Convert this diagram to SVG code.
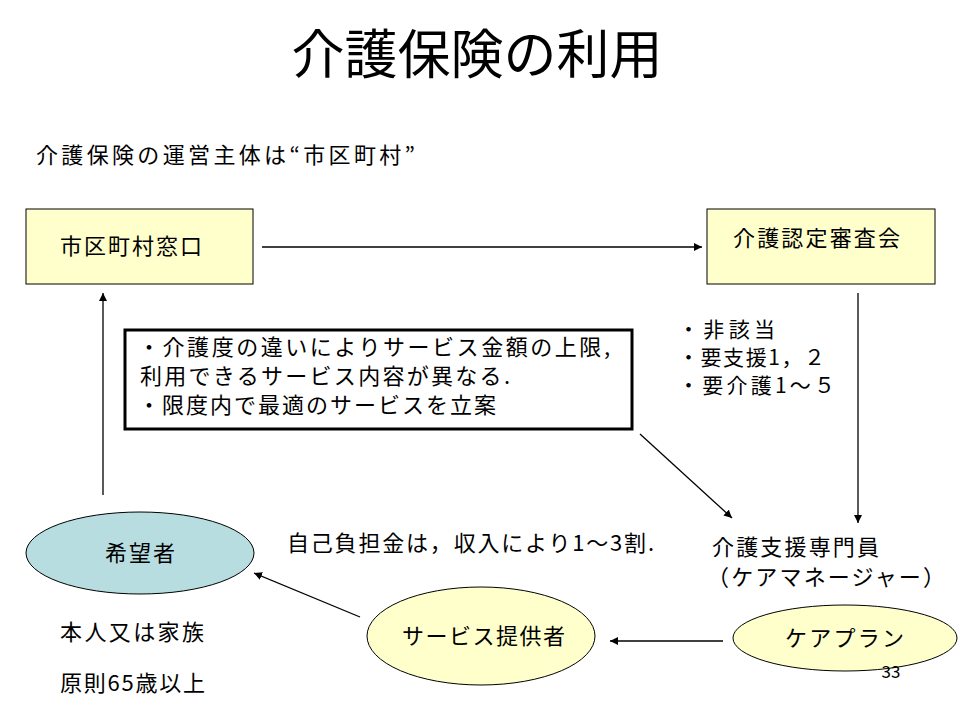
<svg xmlns="http://www.w3.org/2000/svg" width="960" height="720" viewBox="0 0 960 720">
<defs>
<style>
text{font-family:"Noto Sans CJK JP","Noto Sans",sans-serif;fill:#000;}
.t22{font-size:22px;}
.t21{font-size:21px;}
.ln{stroke:#000;stroke-width:1.3;fill:none;}
.box{fill:#FFFFCC;stroke:#000;stroke-width:1;}
</style>
<marker id="ah" viewBox="0 0 10 10" refX="10" refY="5" markerWidth="8" markerHeight="8" markerUnits="userSpaceOnUse" orient="auto">
<path d="M0,0 L10,5 L0,10 z" fill="#000"/>
</marker>
</defs>
<rect width="960" height="720" fill="#fff"/>
<text x="477" y="74" font-size="53" text-anchor="middle">介護保険の利用</text>
<text x="36" y="163" class="t22" textLength="379" lengthAdjust="spacing">介護保険の運営主体は“市区町村”</text>

<g id="connectors">
<line class="ln" x1="262" y1="247" x2="702" y2="247" marker-end="url(#ah)"/>
<line class="ln" x1="858" y1="293" x2="858" y2="523" marker-end="url(#ah)"/>
<line class="ln" x1="640" y1="434" x2="732" y2="518" marker-end="url(#ah)"/>
<line class="ln" x1="103" y1="495" x2="103" y2="293" marker-end="url(#ah)"/>
<line class="ln" x1="360" y1="617" x2="254" y2="573" marker-end="url(#ah)"/>
<line class="ln" x1="723" y1="641" x2="610" y2="641" marker-end="url(#ah)"/>
</g>

<g id="node-shichoson">
<rect class="box" x="26" y="209" width="227" height="75"/>
<text x="60" y="254" class="t22" textLength="142" lengthAdjust="spacing">市区町村窓口</text>
</g>

<g id="node-shinsakai">
<rect class="box" x="707" y="209" width="228" height="75"/>
<text x="733" y="246" class="t22" textLength="167" lengthAdjust="spacing">介護認定審査会</text>
</g>

<g id="node-levels">
<text x="678" y="337" class="t21" textLength="97" lengthAdjust="spacing">・非該当</text>
<text x="678" y="365" class="t21" textLength="147" lengthAdjust="spacing">・要支援1，２</text>
<text x="678" y="393" class="t21" textLength="157" lengthAdjust="spacing">・要介護1～５</text>
</g>

<g id="node-note">
<rect x="125" y="330" width="507" height="99" fill="#fff" stroke="#000" stroke-width="3"/>
<text x="138" y="355" class="t22" textLength="472" lengthAdjust="spacing">・介護度の違いによりサービス金額の上限,</text>
<text x="140" y="384" class="t22" textLength="370" lengthAdjust="spacing">利用できるサービス内容が異なる.</text>
<text x="138" y="413" class="t22" textLength="358" lengthAdjust="spacing">・限度内で最適のサービスを立案</text>
</g>

<g id="node-kibousha">
<ellipse cx="140" cy="553" rx="114" ry="41" fill="#B7DDE0" stroke="#000" stroke-width="1"/>
<text x="105" y="561" class="t22" textLength="70" lengthAdjust="spacing">希望者</text>
</g>

<g id="node-futan">
<text x="287" y="551" class="t22" textLength="367" lengthAdjust="spacing">自己負担金は，収入により1～3割.</text>
</g>

<g id="node-caremanager">
<text x="712" y="555" class="t22" textLength="167" lengthAdjust="spacing">介護支援専門員</text>
<text x="707" y="585" class="t22" textLength="238" lengthAdjust="spacing">（ケアマネージャー）</text>
</g>

<g id="node-provider">
<ellipse cx="481" cy="636" rx="114" ry="49" fill="#FFFFCC" stroke="#000" stroke-width="1"/>
<text x="402" y="644" class="t22" textLength="163" lengthAdjust="spacing">サービス提供者</text>
</g>

<g id="node-careplan">
<ellipse cx="845" cy="638" rx="112" ry="33" fill="#FFFFCC" stroke="#000" stroke-width="1"/>
<text x="785" y="646" class="t22" textLength="119" lengthAdjust="spacing">ケアプラン</text>
</g>

<g id="node-honnin">
<text x="60" y="640" class="t22" textLength="144" lengthAdjust="spacing">本人又は家族</text>
<text x="60" y="691" class="t22" textLength="145" lengthAdjust="spacing">原則65歳以上</text>
</g>

<text x="891" y="678" font-size="17" text-anchor="middle">33</text>
</svg>
